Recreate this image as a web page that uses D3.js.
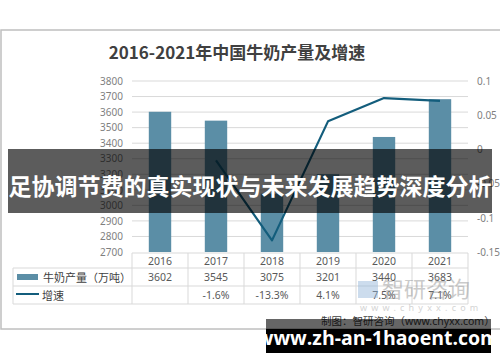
<!DOCTYPE html>
<meta charset="utf-8">
<style>
    body{ margin:0; background:#fff; }
    svg text{ font-family:"Noto Sans","Noto Sans CJK SC",sans-serif; }
</style>
<div class="chart"></div>
<script src="https://d3js.org/d3.v7.min.js"></script>
<script>

var years = ["2016", "2017", "2018", "2019", "2020", "2021"];
var production = [3602, 3545, 3075, 3201, 3440, 3683];
var growth = [null, -0.016, -0.133, 0.041, 0.075, 0.071];
var growthLabels = ["", "-1.6%", "-13.3%", "4.1%", "7.5%", "7.1%"];
var leftTicks = [2700, 2800, 2900, 3000, 3100, 3200, 3300, 3400, 3500, 3600, 3700, 3800];
var rightTicks = [0.1, 0.05, 0, -0.05, -0.1, -0.15];
var rightTickLabels = ["0.1", "0.05", "0", "-0.05", "-0.1", "-0.15"];

var barColor = "#5b8ea6", lineColor = "#135d7c", gridColor = "#d9d9d9", labelColor = "#7f7f7f";

var svg = d3.select(".chart").append("svg").attr("width", 500).attr("height", 362);

// frame
svg.append("rect")
    .attr("x", 1).attr("y", 30).attr("width", 500).attr("height", 299)
    .attr("fill", "#fff").attr("stroke", "#bfbfbf").attr("stroke-width", 1.5);

svg.append("text")
    .attr("x", 237).attr("y", 59)
    .attr("text-anchor", "middle")
    .attr("font-size", 17).attr("font-weight", "bold").attr("fill", "#404040")
    .style("font-family", "'Noto Sans CJK SC',sans-serif")
    .text("2016-2021年中国牛奶产量及增速");

var x = d3.scaleBand().domain(years).range([132, 468]).paddingInner(0.6).paddingOuter(0.3);
var yL = d3.scaleLinear().domain([2700, 3800]).range([252, 81]);
var yR = d3.scaleLinear().domain([-0.15, 0.1]).range([252, 81]);

// grid
svg.append("g").selectAll("line")
    .data(leftTicks.slice(1))
    .enter().append("line")
    .attr("x1", 132).attr("x2", 468)
    .attr("y1", function(d) { return yL(d); })
    .attr("y2", function(d) { return yL(d); })
    .attr("stroke", gridColor);

var axL = svg.append("g")
    .attr("transform", "translate(127,0)")
    .call(d3.axisLeft(yL).tickValues(leftTicks).tickSize(0).tickPadding(4).tickFormat(d3.format("d")));
axL.select(".domain").remove();
axL.selectAll("text").attr("fill", labelColor).attr("font-size", 10).style("font-family", "'Noto Sans',sans-serif");

var axR = svg.append("g")
    .attr("transform", "translate(473,0)")
    .call(d3.axisRight(yR).tickValues(rightTicks).tickSize(0).tickPadding(4)
        .tickFormat(function(d, i) { return rightTickLabels[i]; }));
axR.select(".domain").remove();
axR.selectAll("text").attr("fill", labelColor).attr("font-size", 10).style("font-family", "'Noto Sans',sans-serif");

// bars
svg.append("g").selectAll("rect")
    .data(years)
    .enter().append("rect")
    .attr("x", function(d) { return x(d); })
    .attr("width", x.bandwidth())
    .attr("y", function(d, i) { return yL(production[i]); })
    .attr("height", function(d, i) { return yL(2700) - yL(production[i]); })
    .attr("fill", barColor);

// growth line
var lineData = years.map(function(d, i) { return {year: d, v: growth[i]}; })
    .filter(function(d) { return d.v !== null; });
svg.append("path")
    .datum(lineData)
    .attr("fill", "none")
    .attr("stroke", lineColor)
    .attr("stroke-width", 2.2)
    .attr("stroke-linejoin", "round")
    .attr("d", d3.line()
        .x(function(d) { return x(d.year) + x.bandwidth() / 2; })
        .y(function(d) { return yR(d.v); }));

// data table
var t = svg.append("g").attr("stroke", gridColor).attr("fill", "none");
t.append("line").attr("x1", 132).attr("x2", 468).attr("y1", 253).attr("y2", 253);
[268, 286, 304].forEach(function(yy) {
    t.append("line").attr("x1", 13).attr("x2", 468).attr("y1", yy).attr("y2", yy);
});
t.append("line").attr("x1", 13).attr("x2", 13).attr("y1", 268).attr("y2", 304);
var cols = x.domain().map(function(d) { return x(d) - x.step() * 0.3; }).concat([468]);
cols.forEach(function(cx) {
    t.append("line").attr("x1", cx).attr("x2", cx).attr("y1", 253).attr("y2", 304);
});

var cellText = function(rowY, labels) {
    svg.append("g").selectAll("text")
        .data(years)
        .enter().append("text")
        .attr("x", function(d) { return x(d) + x.bandwidth() / 2; })
        .attr("y", rowY)
        .attr("text-anchor", "middle")
        .attr("dominant-baseline", "central")
        .attr("font-size", 10.5).attr("fill", "#595959")
        .text(function(d, i) { return labels[i]; });
};
cellText(261, years);
cellText(277, production.map(String));
cellText(295, growthLabels);

// legend
svg.append("rect").attr("x", 17).attr("y", 274).attr("width", 21).attr("height", 6).attr("fill", barColor);
svg.append("text").attr("x", 43).attr("y", 277).attr("dominant-baseline", "central")
    .attr("font-size", 11).attr("fill", "#404040").text("牛奶产量（万吨）");
svg.append("line").attr("x1", 16).attr("x2", 39).attr("y1", 294).attr("y2", 294)
    .attr("stroke", lineColor).attr("stroke-width", 2);
svg.append("text").attr("x", 42).attr("y", 295).attr("dominant-baseline", "central")
    .attr("font-size", 11).attr("fill", "#404040").text("增速");

// watermark
var wm = svg.append("g").attr("opacity", 0.45);
wm.append("rect").attr("x", 358).attr("y", 281).attr("width", 20).attr("height", 17).attr("fill", "#8fb3d9");
wm.append("text").attr("x", 382).attr("y", 297).attr("font-size", 22).attr("fill", "#8c8c8c").text("智研咨询");
wm.append("text").attr("x", 360).attr("y", 311).attr("font-size", 9).attr("fill", "#a0a0a0")
    .attr("letter-spacing", 4.2).text("www.chyxx.com");

svg.append("text").attr("x", 321).attr("y", 325)
    .attr("font-size", 10.5).attr("fill", "#404040").text("制图：智研咨询（www.chyxx.com）");

// overlays
svg.append("rect").attr("x", 8).attr("y", 149).attr("width", 484).attr("height", 64)
    .attr("fill", "#000").attr("opacity", 0.64);
svg.append("text").attr("x", 250).attr("y", 185)
    .attr("text-anchor", "middle").attr("dominant-baseline", "central")
    .attr("font-size", 23).attr("font-weight", "bold").attr("fill", "#fff")
    .style("font-family", "'Noto Sans CJK SC',sans-serif")
    .text("足协调节费的真实现状与未来发展趋势深度分析");

svg.append("rect").attr("x", 266).attr("y", 319).attr("width", 225).attr("height", 10)
    .attr("fill", "#000").attr("opacity", 0.6);
svg.append("rect").attr("x", 266).attr("y", 329).attr("width", 225).attr("height", 24)
    .attr("fill", "#000");
svg.append("text").attr("x", 378).attr("y", 337)
    .attr("text-anchor", "middle").attr("dominant-baseline", "central")
    .attr("font-size", 19.5).attr("font-weight", "bold").attr("fill", "#fff")
    .style("font-family", "'Open Sans','Noto Sans',sans-serif")
    .text("www.zh-an-1haoent.com");

</script>
